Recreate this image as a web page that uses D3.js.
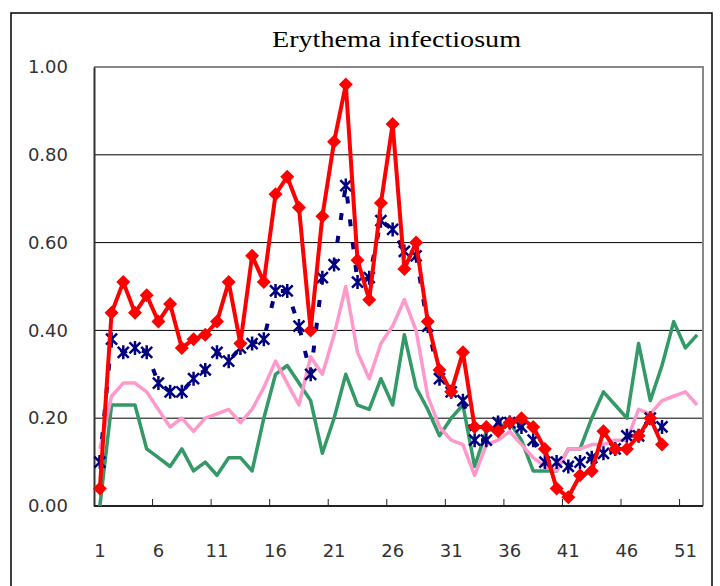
<!DOCTYPE html>
<html>
<head>
<meta charset="utf-8">
<script src="https://cdn.jsdelivr.net/npm/d3@7"></script>
<style>
  body { margin: 0; background: #fff; }
  svg { display: block; }
</style>
</head>
<body>
<svg id="chart" width="720" height="586"></svg>
<script>
const weeks = d3.range(1, 53);
const xLabels = [1, 6, 11, 16, 21, 26, 31, 36, 41, 46, 51];
const yTicks = [0, 0.2, 0.4, 0.6, 0.8, 1.0];

// current year (red, diamonds)
const seriesRed = [0.04, 0.44, 0.51, 0.44, 0.48, 0.42, 0.46, 0.36, 0.38, 0.39,
  0.42, 0.51, 0.37, 0.57, 0.51, 0.71, 0.75, 0.68, 0.40, 0.66,
  0.83, 0.96, 0.56, 0.47, 0.69, 0.87, 0.54, 0.60, 0.42, 0.31,
  0.26, 0.35, 0.18, 0.18, 0.17, 0.19, 0.20, 0.18, 0.13, 0.04,
  0.02, 0.07, 0.08, 0.17, 0.13, 0.13, 0.16, 0.20, 0.14];
// navy dashed, asterisks
const seriesNavy = [0.10, 0.38, 0.35, 0.36, 0.35, 0.28, 0.26, 0.26, 0.29, 0.31,
  0.35, 0.33, 0.36, 0.37, 0.38, 0.49, 0.49, 0.41, 0.30, 0.52,
  0.55, 0.73, 0.51, 0.52, 0.65, 0.63, 0.58, 0.57, 0.41, 0.29,
  0.26, 0.24, 0.15, 0.15, 0.19, 0.19, 0.18, 0.15, 0.10, 0.10,
  0.09, 0.10, 0.11, 0.12, 0.13, 0.16, 0.16, 0.20, 0.18];
const seriesPink = [0.13, 0.25, 0.28, 0.28, 0.26, 0.22, 0.18, 0.20, 0.17, 0.20,
  0.21, 0.22, 0.19, 0.22, 0.27, 0.33, 0.28, 0.23, 0.34, 0.30,
  0.39, 0.50, 0.35, 0.29, 0.37, 0.41, 0.47, 0.40, 0.25, 0.18,
  0.15, 0.14, 0.07, 0.14, 0.15, 0.17, 0.14, 0.11, 0.09, 0.08,
  0.13, 0.13, 0.14, 0.14, 0.15, 0.15, 0.22, 0.21, 0.24, 0.25,
  0.26, 0.23];
const seriesGreen = [0.00, 0.23, 0.23, 0.23, 0.13, 0.11, 0.09, 0.13, 0.08, 0.10,
  0.07, 0.11, 0.11, 0.08, 0.20, 0.30, 0.32, 0.28, 0.24, 0.12,
  0.20, 0.30, 0.23, 0.22, 0.29, 0.23, 0.39, 0.27, 0.22, 0.16,
  0.20, 0.23, 0.09, 0.17, 0.18, 0.19, 0.15, 0.08, 0.08, 0.08,
  0.13, 0.13, 0.20, 0.26, 0.23, 0.20, 0.37, 0.24, 0.32, 0.42,
  0.36, 0.39];

const svg = d3.select("#chart");
const area = { left: 94, right: 703, top: 67, bottom: 506 };

// outer frame
svg.append("rect")
  .attr("x", 11).attr("y", 13)
  .attr("width", 701).attr("height", 600)
  .attr("fill", "#fff").attr("stroke", "#000").attr("stroke-width", 1.5);

svg.append("text")
  .attr("x", 272).attr("y", 47)
  .attr("textLength", 249)
  .attr("lengthAdjust", "spacingAndGlyphs")
  .style("font-family", "'Liberation Serif', 'DejaVu Serif', serif")
  .style("font-size", "24px")
  .text("Erythema infectiosum");

const x = d3.scaleBand().domain(weeks).range([area.left, area.right]).padding(0);
const y = d3.scaleLinear().domain([0, 1]).range([area.bottom, area.top]);
const cx = (d) => x(d) + x.bandwidth() / 2;

// grid
svg.append("g")
  .selectAll("line")
  .data(yTicks.filter((t) => t > 0 && t < 1))
  .enter()
  .append("line")
  .attr("x1", area.left).attr("x2", area.right)
  .attr("y1", (d) => y(d)).attr("y2", (d) => y(d))
  .attr("stroke", "#000").attr("stroke-width", 1);

// plot border top/right grey
svg.append("path")
  .attr("d", `M${area.left},${area.top}H${area.right}V${area.bottom}`)
  .attr("fill", "none").attr("stroke", "#888").attr("stroke-width", 2);

// y axis
const axisY = d3.axisLeft(y).tickValues(yTicks).tickFormat(d3.format(".2f")).tickSize(0).tickPadding(26);
const gy = svg.append("g").attr("transform", `translate(${area.left},0)`).call(axisY);
gy.select(".domain").attr("stroke", "#333").attr("stroke-width", 2);
gy.selectAll("text")
  .style("font-family", "'DejaVu Sans', sans-serif")
  .style("font-size", "18px")
  .attr("fill", "#333");

// x axis: labels every 5 weeks, ticks at category boundaries pointing inward
const gx = svg.append("g").attr("transform", `translate(0,${area.bottom})`);
gx.append("line")
  .attr("x1", area.left).attr("x2", area.right)
  .attr("stroke", "#222").attr("stroke-width", 2);
gx.selectAll(".tk")
  .data(xLabels.slice(1))
  .enter()
  .append("line")
  .attr("class", "tk")
  .attr("x1", (d) => x(d)).attr("x2", (d) => x(d))
  .attr("y1", 0).attr("y2", -7)
  .attr("stroke", "#222").attr("stroke-width", 1);
gx.selectAll("text")
  .data(xLabels)
  .enter()
  .append("text")
  .attr("x", (d) => cx(d))
  .attr("y", 51)
  .attr("text-anchor", "middle")
  .style("font-family", "'DejaVu Sans', sans-serif")
  .style("font-size", "18px")
  .attr("fill", "#333")
  .text((d) => d);

const line = d3.line().x((d, i) => cx(weeks[i])).y((d) => y(d));

function drawLine(values, color, width, dash) {
  svg.append("path")
    .datum(values)
    .attr("d", line)
    .attr("fill", "none")
    .attr("stroke", color)
    .attr("stroke-width", width)
    .attr("stroke-linejoin", "round")
    .attr("stroke-dasharray", dash || null);
}

drawLine(seriesGreen, "#339966", 3.5);
drawLine(seriesPink, "#ff99cc", 3.5);
drawLine(seriesNavy, "#000080", 4, "7,16");

// asterisk markers
svg.append("g")
  .selectAll("path")
  .data(seriesNavy)
  .enter()
  .append("path")
  .attr("transform", (d, i) => `translate(${cx(weeks[i])},${y(d)})`)
  .attr("d", "M-5.5,-5.5L5.5,5.5M-5.5,5.5L5.5,-5.5M0,-7V7")
  .attr("stroke", "#000080").attr("stroke-width", 2.5).attr("fill", "none");

drawLine(seriesRed, "#ff0000", 4);

svg.append("g")
  .selectAll("path")
  .data(seriesRed)
  .enter()
  .append("path")
  .attr("transform", (d, i) => `translate(${cx(weeks[i])},${y(d)})`)
  .attr("d", "M0,-7L7,0L0,7L-7,0Z")
  .attr("fill", "#ff0000");
</script>
</body>
</html>
